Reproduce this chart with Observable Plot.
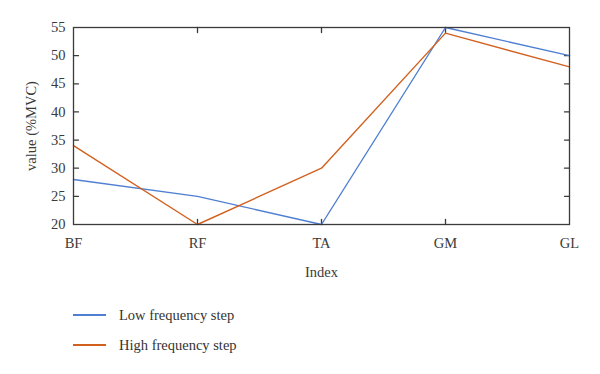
<!DOCTYPE html>
<html>
<head>
<meta charset="utf-8">
<script src="https://cdn.jsdelivr.net/npm/d3@7"></script>
<script src="https://cdn.jsdelivr.net/npm/@observablehq/plot@0.6"></script>
<style>
  html, body { margin: 0; padding: 0; background: #fff; }
  #wrap { position: relative; width: 600px; height: 374px; font-family: "Liberation Serif", "DejaVu Serif", serif; color: #333; }
  #chart { position: absolute; left: 0; top: 0; }
  .leg { position: absolute; left: 73px; font-size: 14.5px; display: flex; align-items: center; height: 20px; }
  .leg .sw { width: 33px; height: 1.5px; margin-right: 13px; }
</style>
</head>
<body>
<div id="wrap">
  <div id="chart"></div>
</div>
<script>
const categories = ["BF", "RF", "TA", "GM", "GL"];
const lowFreq = [28, 25, 20, 55, 50];
const highFreq = [34, 20, 30, 54, 48];
const seriesNames = ["Low frequency step", "High frequency step"];
const seriesColors = ["#4f7fd2", "#d2601e"];
const yTicks = [20, 25, 30, 35, 40, 45, 50, 55];
const innerXTicks = ["RF", "TA", "GM"];

const rows = [];
categories.forEach((c, i) => {
  rows.push({cat: c, value: lowFreq[i], series: seriesNames[0]});
  rows.push({cat: c, value: highFreq[i], series: seriesNames[1]});
});

const tickShape = {draw(ctx, l) { ctx.moveTo(0, 0); ctx.lineTo(0, -l); }};
const axisColor = "#3a3a3a";

const plot = Plot.plot({
  width: 600,
  height: 290,
  marginTop: 27,
  marginBottom: 66,
  marginLeft: 73,
  marginRight: 31,
  style: {fontFamily: "'Liberation Serif', 'DejaVu Serif', serif", fontSize: "14.5px", color: "#333", background: "#fff"},
  x: {type: "point", domain: categories, padding: 0},
  y: {domain: [20, 55]},
  color: {domain: seriesNames, range: seriesColors},
  marks: [
    Plot.axisY(yTicks, {anchor: "left", tickSize: 0, tickPadding: 8, label: "value (%MVC)", labelAnchor: "center", labelOffset: 48, labelArrow: "none", fill: axisColor}),
    Plot.axisX(categories, {anchor: "bottom", tickSize: 0, tickPadding: 13, label: "Index", labelAnchor: "center", labelOffset: 52, labelArrow: "none", fill: axisColor}),
    Plot.vector(yTicks.slice(1, -1), {x: () => categories[0], y: d => d, length: 5, rotate: 90, anchor: "start", shape: tickShape, stroke: axisColor, strokeWidth: 1.3}),
    Plot.vector(yTicks.slice(1, -1), {x: () => categories[categories.length - 1], y: d => d, length: 5, rotate: -90, anchor: "start", shape: tickShape, stroke: axisColor, strokeWidth: 1.3}),
    Plot.vector(innerXTicks, {x: d => d, y: () => 20, length: 5, rotate: 0, anchor: "start", shape: tickShape, stroke: axisColor, strokeWidth: 1.3}),
    Plot.vector(innerXTicks, {x: d => d, y: () => 55, length: 5, rotate: 180, anchor: "start", shape: tickShape, stroke: axisColor, strokeWidth: 1.3}),
    Plot.line(rows, {x: "cat", y: "value", stroke: "series", z: "series", strokeWidth: 1.4}),
    Plot.frame({stroke: axisColor, strokeWidth: 1.3})
  ]
});
document.getElementById("chart").appendChild(plot);

const wrap = document.getElementById("wrap");
const legendY = [305, 335];
seriesNames.forEach((name, i) => {
  const d = document.createElement("div");
  d.className = "leg";
  d.style.top = legendY[i] + "px";
  const sw = document.createElement("div");
  sw.className = "sw";
  sw.style.background = seriesColors[i];
  const t = document.createElement("span");
  t.textContent = name;
  d.appendChild(sw);
  d.appendChild(t);
  wrap.appendChild(d);
});
</script>
</body>
</html>
